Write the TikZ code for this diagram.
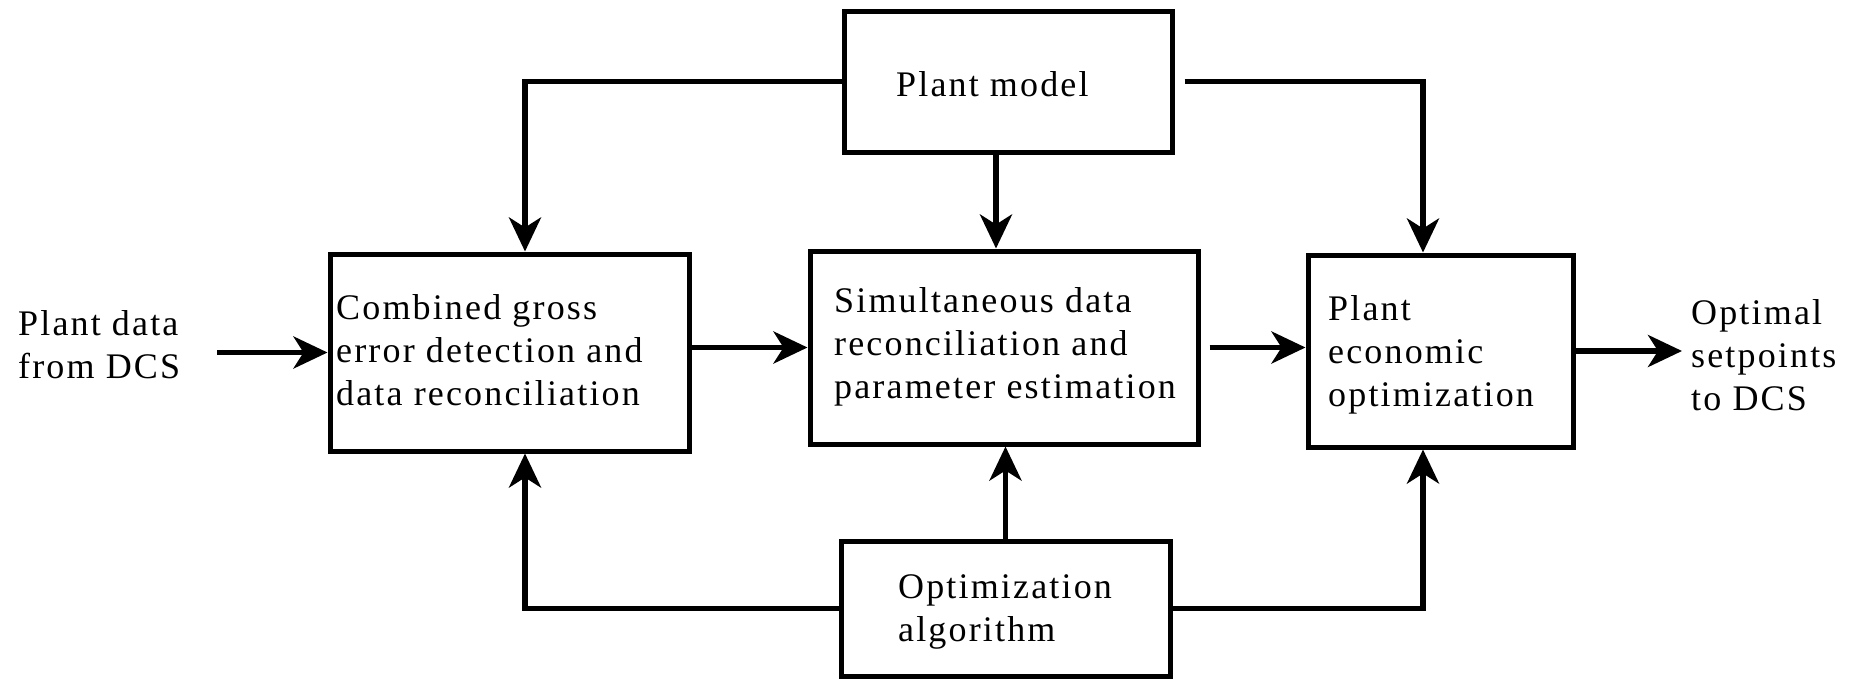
\documentclass[tikz,border=0pt]{standalone}
\usepackage{fontspec}
\setmainfont{Liberation Serif}[LetterSpace=6]
\usetikzlibrary{arrows.meta}
\tikzset{
  box/.style={draw, line width=5pt, inner sep=0pt, rectangle},
  txt/.style={align=left, inner sep=0pt, anchor=west, font=\fontsize{36}{43}\selectfont},
  conn/.style={line width=5.5pt},
  arr/.style={conn, -{Stealth[length=34pt,width=32pt,inset=10pt]}}
}
\begin{document}
\begin{tikzpicture}[x=1pt,y=-1pt]
\useasboundingbox (0,0) rectangle (1857,680);
% boxes
\node[box, minimum width=328pt, minimum height=141pt] (pm) at (1008,81.5) {};
\node[box, minimum width=359pt, minimum height=197pt] (comb) at (509.5,352.5) {};
\node[box, minimum width=388pt, minimum height=193pt] (sim) at (1004,347.5) {};
\node[box, minimum width=265pt, minimum height=192pt] (econ) at (1440.5,351) {};
\node[box, minimum width=329pt, minimum height=135pt] (opt) at (1005.5,608.5) {};
% texts
\node[txt] (pmt) at (896,84) {Plant model};
\node[txt] (combt) at (336,350) {Combined gross\\error detection and\\data reconciliation};
\node[txt] (simt) at (834,347) {Simultaneous data\\reconciliation and\\parameter estimation};
\node[txt] (econt) at (1328,355) {Plant\\economic\\optimization};
\node[txt] (optt) at (898,612) {Optimization\\algorithm};
\node[txt] (pdt) at (18,345) {Plant data\\from DCS};
\node[txt] (outt) at (1691,355) {Optimal\\setpoints\\to DCS};
% free ends
\coordinate (din) at (217,352.5);
\coordinate (dout) at (1682,351);
% connectors
\draw[arr] (pm.west) -| ([xshift=15.5pt]comb.north);
\draw[arr] ([xshift=10pt]pm.east) -| ([xshift=-17.5pt]econ.north);
\draw[arr] ([xshift=-12pt]pm.south) -- ([xshift=-12pt]pm.south |- sim.north);
\draw[arr] (opt.north) -- (opt.north |- sim.south);
\draw[arr] (opt.west) -| ([xshift=15.5pt]comb.south);
\draw[arr] (opt.east) -| ([xshift=-17.5pt]econ.south);
\draw[arr] (din) -- (comb.west);
\draw[arr] (comb.east |- sim.west) -- (sim.west);
\draw[arr] ([xshift=9pt]sim.east) -- (sim.east -| econ.west);
\draw[arr] (econ.east) -- (dout);
\end{tikzpicture}
\end{document}
